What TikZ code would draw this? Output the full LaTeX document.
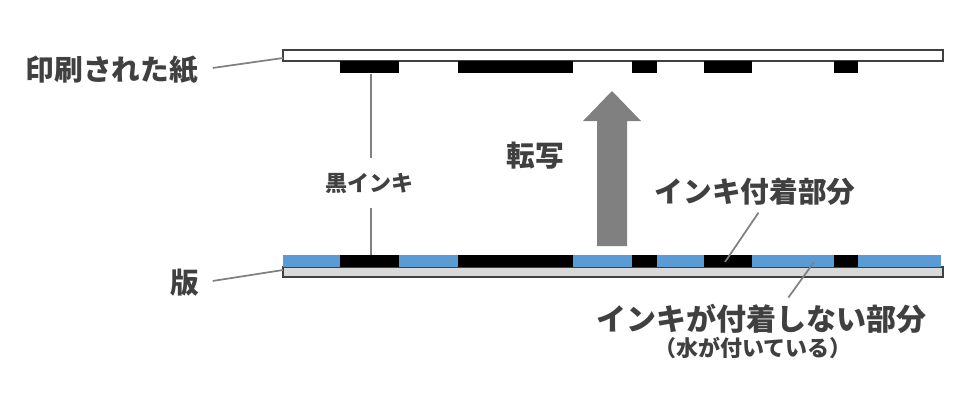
\documentclass[tikz,border=0pt]{standalone}
\usepackage{fontspec}
\setmainfont{Noto Sans CJK JP}
\usetikzlibrary{positioning}
\definecolor{inkblue}{RGB}{91,155,213}
\definecolor{txtgray}{RGB}{64,64,64}
\definecolor{leadgray}{RGB}{128,128,128}
\definecolor{platefill}{RGB}{217,217,217}
\tikzset{
  lbl/.style={text=txtgray,inner sep=0pt,font=\fontsize{21.5}{21.5}\selectfont\bfseries},
  smalllbl/.style={text=txtgray,inner sep=0pt,font=\fontsize{16.5}{16.5}\selectfont\bfseries},
  leader/.style={draw=leadgray,line width=1.3pt}
}

\begin{document}
\begin{tikzpicture}[x=0.75pt,y=-0.75pt]
  \useasboundingbox (0,0) rectangle (960,411);
  % paper
  \draw[fill=white,draw=txtgray,line width=1.1pt] (283,50) rectangle (943,61);
  \coordinate (paperend) at (283,58);
  % plate
  \draw[fill=platefill,draw=txtgray,line width=1.1pt] (283,267) rectangle (943,277);
  \coordinate (plateend) at (283,270);
  \fill[inkblue] (283,255) rectangle (941,267);
  % ink on paper and plate
  \foreach \a/\b in {340/399, 458/573, 632/657, 704/752, 834/858} {
    \fill[black] (\a,61) rectangle (\b,73);
    \fill[black] (\a,255) rectangle (\b,267);
  }
  \coordinate (inktop) at (371,74);
  \coordinate (inkbot) at (371,255);
  \coordinate (attachpt) at (725,262);
  \coordinate (waterpt) at (814,262);
  % transfer arrow
  \fill[leadgray] (597,246) -- (597,121) -- (583,121) -- (612,91)
    -- (641,121) -- (627,121) -- (627,246) -- cycle;
  % labels
  \node[lbl] (paperlbl) at (112,70) {印刷された紙};
  \node[lbl] (platelbl) at (185,283) {版};
  \node[smalllbl,inner ysep=11pt] (inklbl) at (369,183) {黒インキ};
  \node[lbl] (translbl) at (535,156) {転写};
  \node[lbl] (attachlbl) at (755,192) {インキ付着部分};
  \node[lbl,font=\fontsize{22.5}{22.5}\selectfont\bfseries] (waterlbl) at (761,319) {インキが付着しない部分};
  \node[smalllbl] (waternote) at (753,348) {（水が付いている）};
  % leaders
  \draw[leader,shorten <=11pt] (paperlbl.east) -- (paperend);
  \draw[leader,shorten <=10pt] (platelbl.east) -- (plateend);
  \draw[leader] (inktop) -- (inktop |- inklbl.north);
  \draw[leader] (inkbot) -- (inkbot |- inklbl.south);
  \draw[leader,shorten <=6pt] ([xshift=6pt]attachlbl.south) -- (attachpt);
  \draw[leader,shorten <=6pt] ([xshift=17pt]waterlbl.north) -- (waterpt);
\end{tikzpicture}
\end{document}
